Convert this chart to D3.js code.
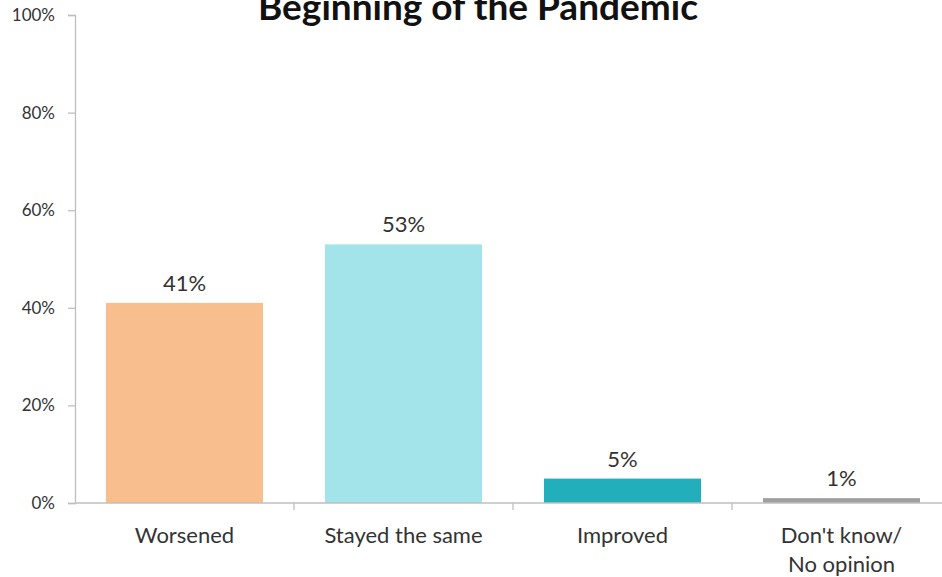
<!DOCTYPE html>
<html>
<head>
<meta charset="utf-8">
<script src="https://cdn.jsdelivr.net/npm/d3@7"></script>
<style>
  html, body { margin: 0; padding: 0; background: #fff; }
  svg { display: block; font-family: Lato, "Open Sans", sans-serif; }
</style>
</head>
<body>
<svg id="chart" width="942" height="577"></svg>
<script>
// Survey responses: change since the beginning of the pandemic
const categories = ["Worsened", "Stayed the same", "Improved", "Don't know/\nNo opinion"];
const values = [41, 53, 5, 1];
const colors = ["#F8BE8E", "#A3E4EA", "#23AEBB", "#A0A0A0"];
const yTicks = [0, 20, 40, 60, 80, 100];
const title = "Beginning of the Pandemic";

const svg = d3.select("#chart");
const margin = { left: 75, right: -9, top: 15, bottom: 74 };
const W = 942, H = 577;

const x = d3.scaleBand()
  .domain(categories)
  .range([margin.left, W - margin.right])
  .paddingInner(0.283)
  .paddingOuter(0.1415);

const y = d3.scaleLinear()
  .domain([0, 100])
  .range([H - margin.bottom, margin.top]);

const axisColor = "#BFBFBF";
const textColor = "#333333";

// Title (runs past the top edge)
svg.append("text")
  .attr("x", 478)
  .attr("y", 20)
  .attr("text-anchor", "middle")
  .attr("font-weight", "bold")
  .attr("font-size", 37)
  .attr("fill", "#111")
  .text(title);

// Bars
svg.append("g").selectAll("rect")
  .data(values)
  .join("rect")
  .attr("x", (d, i) => x(categories[i]))
  .attr("width", x.bandwidth())
  .attr("y", d => y(d))
  .attr("height", d => y(0) - y(d))
  .attr("fill", (d, i) => colors[i]);

// Y axis
const yAxis = svg.append("g")
  .attr("transform", `translate(${margin.left},0)`)
  .call(d3.axisLeft(y).tickValues(yTicks).tickFormat(d => d + "%").tickSize(7).tickPadding(13));
yAxis.select(".domain").attr("stroke", axisColor).attr("stroke-width", 1.3);
yAxis.selectAll(".tick line").attr("stroke", axisColor).attr("stroke-width", 1.3);
yAxis.selectAll(".tick text")
  .attr("font-size", 17)
  .attr("font-family", "Lato, sans-serif")
  .attr("fill", textColor);

// X axis line and category boundary ticks
const xAxis = svg.append("g").attr("transform", `translate(0,${y(0)})`);
xAxis.append("line")
  .attr("x1", margin.left).attr("x2", W)
  .attr("stroke", axisColor).attr("stroke-width", 1.3);
const step = x.step();
const boundaries = categories.map((c, i) => x(c) - (step - x.bandwidth()) / 2);
xAxis.selectAll("line.bound")
  .data(boundaries.slice(1))
  .join("line")
  .attr("class", "bound")
  .attr("x1", d => d).attr("x2", d => d)
  .attr("y1", 0).attr("y2", 7)
  .attr("stroke", axisColor).attr("stroke-width", 1.3);

// Category labels
svg.append("g").selectAll("text")
  .data(categories)
  .join("text")
  .attr("text-anchor", "middle")
  .attr("font-size", 22)
  .attr("fill", textColor)
  .attr("x", d => x(d) + x.bandwidth() / 2)
  .attr("y", 543)
  .each(function (d) {
    const lines = d.split("\n");
    d3.select(this).selectAll("tspan")
      .data(lines)
      .join("tspan")
      .attr("x", x(d) + x.bandwidth() / 2)
      .attr("dy", (l, i) => i === 0 ? 0 : 29)
      .text(l => l);
  });

// Value labels
svg.append("g").selectAll("text")
  .data(values)
  .join("text")
  .attr("text-anchor", "middle")
  .attr("font-size", 22)
  .attr("fill", textColor)
  .attr("x", (d, i) => x(categories[i]) + x.bandwidth() / 2)
  .attr("y", d => y(d) - 12)
  .text(d => d + "%");
</script>
</body>
</html>
